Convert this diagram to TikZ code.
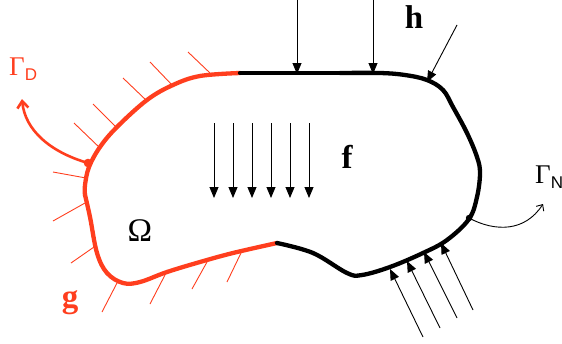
\documentclass[tikz,border=0pt]{standalone}
\usepackage{fontspec}
\setmainfont{Liberation Serif}
\newfontfamily\hsans{Liberation Sans}
\usetikzlibrary{arrows.meta}
\definecolor{bred}{RGB}{255,62,30}
\tikzset{
  bound/.style={line width=4.3pt,line cap=round,line join=round},
  hatch/.style={bred,line width=0.9pt},
  load/.style={line width=0.9pt,-{Triangle[length=11pt,width=9pt]}},
  bigtxt/.style={font=\fontsize{33}{36}\selectfont},
  bigbold/.style={font=\bfseries\fontsize{33}{36}\selectfont},
}
\begin{document}
\begin{tikzpicture}[x=1pt,y=-1pt]
\useasboundingbox (0,0) rectangle (562,343);
% boundary, Dirichlet part (red)
\draw[bound,bred] plot[smooth,tension=0.6] coordinates {(240,73) (200,76) (173,85) (147,100) (117,127) (100,147) (89,167) (85,185) (85,195)};
\draw[bound,bred] plot[smooth,tension=0.6] coordinates {(85,195) (90,217) (97,253) (107,273) (123,283) (140,282) (167,272) (200,262) (233,253) (277,243)};
% boundary, Neumann part (black)
\draw[bound] plot[smooth,tension=0.6] coordinates {(277,243) (313,253) (347,273) (362,275) (390,267) (423,253) (447,240) (469,219) (477,197) (480,173) (477,157) (467,133) (453,107) (443,90) (427,80) (405,75) (380,73) (340,73)};
\draw[bound] (340,73) -- (240,73);
% hatching
\foreach \a/\b/\c/\d in {188/52/210/73, 150/62/173/86, 123/78/147/101, 93/104/117/128, 74/123/100/148, 53/172/86/178, 53/221/85/203, 71/263/94/247, 102/312/117/283, 150/304/166/273, 192/289/207/262, 227/282/241/253}
  \draw[hatch] (\a,\b) -- (\c,\d);
% body force f
\foreach \x in {214,233,252,271,290,309}
  \draw[load] (\x,123) -- (\x,198);
% traction h (top)
\draw[load] (297,0) -- (297,74);
\draw[load] (373,0) -- (373,74);
\draw[load] (457,25) -- (427,82);
% traction (bottom)
\foreach \a/\b/\c/\d in {423/337/390/269, 440/328/407/261, 457/318/424/252, 473/310/441/243}
  \draw[load] (\a,\b) -- (\c,\d);
% labels
\node[bigbold] (h) at (414,17) {h};
\node[bigbold] (f) at (347,157) {f};
\node[bigtxt] (Om) at (140,231) {Ω};
\node[bigbold,bred] (g) at (70,303) {g};
\node[bred,inner sep=0pt,anchor=south west] (GD) at (9,81) {\fontsize{27}{30}\selectfont Γ\raisebox{-5pt}{\hsans\fontsize{17}{20}\selectfont D}};
\node[inner sep=0pt,anchor=south west] (GN) at (535,189) {\fontsize{27}{30}\selectfont Γ\raisebox{-5pt}{\hsans\fontsize{17}{20}\selectfont N}};
% markers
\coordinate (pD) at (88,163);
\coordinate (pN) at (469,218);
\coordinate (tD) at (22,99);
\coordinate (tN) at (543,204);
\fill[bred] (pD) circle (4.3pt);
\fill (pN) circle (3.2pt);
\draw[bred,line width=2.6pt,-{Straight Barb[length=7pt,width=11pt,line width=2.6pt]}] (pD) .. controls (50,152) and (25,130) .. (tD);
\draw[line width=0.9pt,-{Straight Barb[length=5pt,width=9pt]}] (pN) .. controls (495,232) and (525,232) .. (tN);
\end{tikzpicture}
\end{document}
